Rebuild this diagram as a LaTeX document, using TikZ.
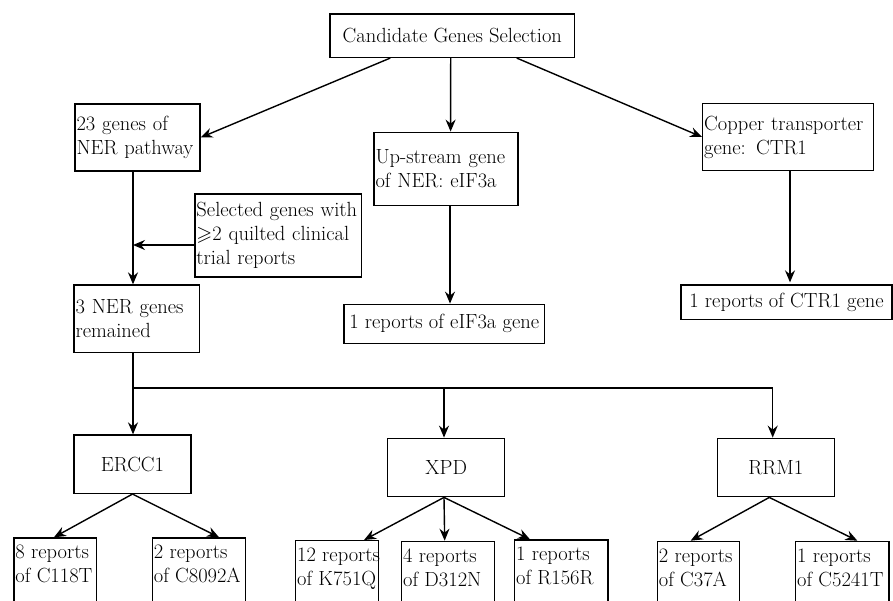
\documentclass[tikz,border=0pt]{standalone}
\usepackage{amssymb}
\usetikzlibrary{arrows.meta}
\begin{document}
\begin{tikzpicture}[x=1pt,y=-1pt,
  every node/.style={font=\fontsize{20.5}{24}\selectfont},
  box/.style={draw, line width=1.4pt, rectangle, inner xsep=1.5pt, inner ysep=1pt, align=left},
  cbox/.style={box, align=center},
  leaf/.style={draw, line width=1.4pt, rectangle, inner xsep=1.5pt, inner ysep=4pt, anchor=north west},
  arr/.style={-{Stealth[length=12pt,width=10pt,inset=4pt]}, line width=1.4pt},
  ln/.style={line width=1.4pt}]
\useasboundingbox (0,0) rectangle (893,601);
\clip (0,0) rectangle (893,601);
% upper boxes
\node[cbox, minimum width=244.7pt, minimum height=43.3pt] (top) at (452.3,35.7) {Candidate Genes Selection};
\node[box, minimum width=125pt, minimum height=67pt, text width=122pt] (ner23) at (137.5,137.5) {\mbox{23 genes of}\\\mbox{NER pathway}};
\node[box, minimum width=144pt, minimum height=73.4pt, text width=141pt] (up) at (446,169) {\mbox{Up-stream gene}\\\mbox{of NER: eIF3a}};
\node[box, minimum width=170.6pt, minimum height=66.6pt, text width=167.6pt] (cop) at (788,137) {\mbox{Copper transporter}\\\mbox{gene: CTR1}};
\node[box, minimum width=166.7pt, minimum height=83pt, text width=163.7pt] (sel) at (278.3,235.5) {\mbox{Selected genes with}\\\mbox{$\geqslant$2 quilted clinical}\\\mbox{trial reports}};
\node[box, minimum width=125.3pt, minimum height=67.3pt, text width=122.3pt] (ner3) at (136.7,318.7) {\mbox{3 NER genes}\\\mbox{remained}};
\node[cbox, minimum width=200.3pt, minimum height=39pt] (eifr) at (444.2,323.8) {1 reports of eIF3a gene};
\node[cbox, minimum width=211pt, minimum height=34.3pt] (ctrr) at (786.5,302.2) {1 reports of CTR1 gene};
% gene boxes
\node[cbox, minimum width=117pt, minimum height=58.3pt] (ercc) at (132.5,464.2) {ERCC1};
\node[cbox, minimum width=117pt, minimum height=58.4pt] (xpd) at (446.2,467.5) {XPD};
\node[cbox, minimum width=117pt, minimum height=58.4pt] (rrm) at (775.8,467.5) {RRM1};
% leaves
\node[leaf] (l1) at (13.3,537.3) {\parbox[t][80pt][t]{79.7pt}{\strut\mbox{8 reports}\\\mbox{of C118T}}};
\node[leaf] (l2) at (151.7,537.3) {\parbox[t][80pt][t]{90.3pt}{\strut\mbox{2 reports}\\\mbox{of C8092A}}};
\node[leaf] (l3) at (295,540) {\parbox[t][80pt][t]{79.7pt}{\strut\mbox{12 reports}\\\mbox{of K751Q}}};
\node[leaf] (l4) at (401,540.7) {\parbox[t][80pt][t]{90pt}{\strut\mbox{4 reports}\\\mbox{of D312N}}};
\node[leaf] (l5) at (514,539.3) {\parbox[t][80pt][t]{90.3pt}{\strut\mbox{1 reports}\\\mbox{of R156R}}};
\node[leaf] (l6) at (656.7,540.7) {\parbox[t][80pt][t]{79.3pt}{\strut\mbox{2 reports}\\\mbox{of C37A}}};
\node[leaf] (l7) at (795,540.7) {\parbox[t][80pt][t]{90.3pt}{\strut\mbox{1 reports}\\\mbox{of C5241T}}};
% connectors
\draw[arr] ([xshift=-62pt]top.south) -- (ner23.east);
\draw[arr] ([xshift=-1.6pt]top.south) -- ([xshift=4.6pt]up.north);
\draw[arr] ([xshift=64.4pt]top.south) -- (cop.west);
\draw[arr] ([xshift=-4.5pt]ner23.south) -- ([xshift=-3.7pt]ner3.north);
\coordinate (j) at ([xshift=-4.5pt]ner23.south |- sel.west);
\draw[arr] ([yshift=-9.5pt]sel.west) -- ([yshift=-9.5pt]j);
\draw[arr] ([xshift=4pt]up.south) -- ([xshift=5.8pt]eifr.north);
\draw[arr] ([xshift=2pt]cop.south) -- ([xshift=3.5pt,yshift=2pt]ctrr.north);
\coordinate (hubL) at ([xshift=-3.7pt]ner3.south |- 0,388);
\coordinate (hubR) at ([xshift=-3.1pt]rrm.north |- 0,388);
\draw[ln] ([xshift=-3.7pt]ner3.south) -- (hubL) -- (hubR);
\draw[arr] (hubL) -- (hubL |- ercc.north);
\draw[arr] ([xshift=-2.2pt]xpd.north |- hubL) -- ([xshift=-2.2pt]xpd.north);
\draw[arr] (hubR) -- ([xshift=-3.1pt]rrm.north);
\draw[arr] (ercc.south) -- ([xshift=-1.4pt]l1.north);
\draw[arr] (ercc.south) -- ([xshift=20pt]l2.north);
\draw[arr] ([xshift=-2.2pt]xpd.south) -- ([xshift=27pt]l3.north);
\draw[arr] ([xshift=-2.2pt]xpd.south) -- ([xshift=-3.5pt]l4.north);
\draw[arr] ([xshift=-2.2pt]xpd.south) -- ([xshift=-31.4pt]l5.north);
\draw[arr] ([xshift=-6.5pt]rrm.south) -- ([xshift=-7.9pt]l6.north);
\draw[arr] ([xshift=-6.5pt]rrm.south) -- ([xshift=15pt]l7.north);
\end{tikzpicture}
\end{document}
